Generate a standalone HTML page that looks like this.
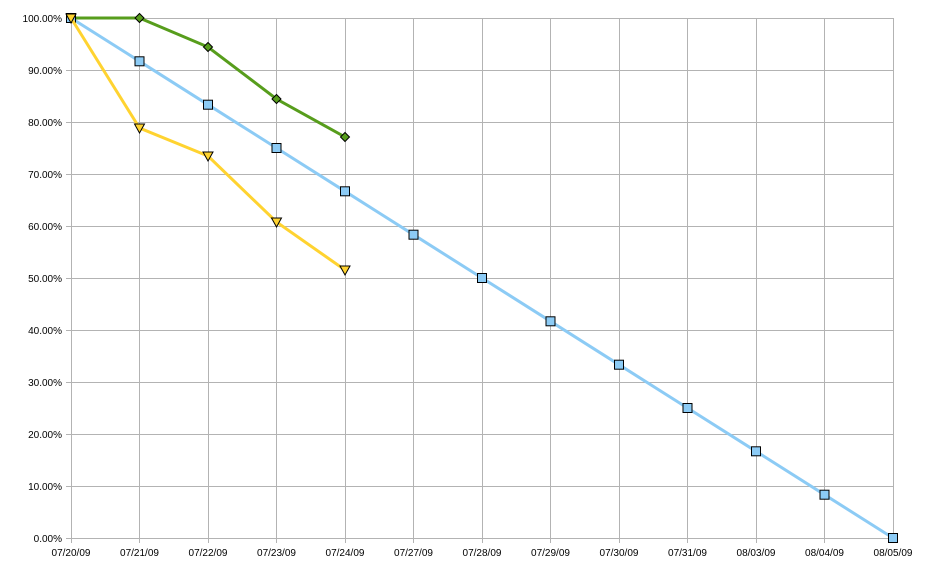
<!DOCTYPE html><html><head><style>body{margin:0;background:#fff}svg{display:block}text{font-family:"Liberation Sans",sans-serif;font-size:10px;fill:#000}</style></head><body>
<svg width="933" height="573" xmlns="http://www.w3.org/2000/svg">
<g stroke="#b3b3b3" stroke-width="1">
<line x1="71" y1="18.5" x2="893" y2="18.5"/><line x1="71" y1="70.5" x2="893" y2="70.5"/><line x1="71" y1="122.5" x2="893" y2="122.5"/><line x1="71" y1="174.5" x2="893" y2="174.5"/><line x1="71" y1="226.5" x2="893" y2="226.5"/><line x1="71" y1="278.5" x2="893" y2="278.5"/><line x1="71" y1="330.5" x2="893" y2="330.5"/><line x1="71" y1="382.5" x2="893" y2="382.5"/><line x1="71" y1="434.5" x2="893" y2="434.5"/><line x1="71" y1="486.5" x2="893" y2="486.5"/><line x1="66" y1="538.5" x2="893" y2="538.5"/>
<line x1="66" y1="18.5" x2="71" y2="18.5"/><line x1="66" y1="70.5" x2="71" y2="70.5"/><line x1="66" y1="122.5" x2="71" y2="122.5"/><line x1="66" y1="174.5" x2="71" y2="174.5"/><line x1="66" y1="226.5" x2="71" y2="226.5"/><line x1="66" y1="278.5" x2="71" y2="278.5"/><line x1="66" y1="330.5" x2="71" y2="330.5"/><line x1="66" y1="382.5" x2="71" y2="382.5"/><line x1="66" y1="434.5" x2="71" y2="434.5"/><line x1="66" y1="486.5" x2="71" y2="486.5"/>
<line x1="71.5" y1="18" x2="71.5" y2="543"/><line x1="139.5" y1="18" x2="139.5" y2="543"/><line x1="208.5" y1="18" x2="208.5" y2="543"/><line x1="276.5" y1="18" x2="276.5" y2="543"/><line x1="345.5" y1="18" x2="345.5" y2="543"/><line x1="413.5" y1="18" x2="413.5" y2="543"/><line x1="482.5" y1="18" x2="482.5" y2="543"/><line x1="550.5" y1="18" x2="550.5" y2="543"/><line x1="619.5" y1="18" x2="619.5" y2="543"/><line x1="687.5" y1="18" x2="687.5" y2="543"/><line x1="756.5" y1="18" x2="756.5" y2="543"/><line x1="824.5" y1="18" x2="824.5" y2="543"/><line x1="893.5" y1="18" x2="893.5" y2="543"/>
</g>
<g text-anchor="end">
<text x="62" y="22">100.00%</text><text x="62" y="74">90.00%</text><text x="62" y="126">80.00%</text><text x="62" y="178">70.00%</text><text x="62" y="230">60.00%</text><text x="62" y="282">50.00%</text><text x="62" y="334">40.00%</text><text x="62" y="386">30.00%</text><text x="62" y="438">20.00%</text><text x="62" y="490">10.00%</text><text x="62" y="542">0.00%</text>
</g>
<g text-anchor="middle">
<text x="71" y="556">07/20/09</text><text x="139.5" y="556">07/21/09</text><text x="208" y="556">07/22/09</text><text x="276.5" y="556">07/23/09</text><text x="345" y="556">07/24/09</text><text x="413.5" y="556">07/27/09</text><text x="482" y="556">07/28/09</text><text x="550.5" y="556">07/29/09</text><text x="619" y="556">07/30/09</text><text x="687.5" y="556">07/31/09</text><text x="756" y="556">08/03/09</text><text x="824.5" y="556">08/04/09</text><text x="893" y="556">08/05/09</text>
</g>
<polyline fill="none" stroke="#579d1c" stroke-width="3" points="71,18 139.5,18 208,47 276.5,99 345,137"/>
<g fill="#579d1c" stroke="#000" stroke-width="1">
<path d="M71,13.5 l4.5,4.5 -4.5,4.5 -4.5,-4.5z"/><path d="M139.5,13.5 l4.5,4.5 -4.5,4.5 -4.5,-4.5z"/><path d="M208,42.5 l4.5,4.5 -4.5,4.5 -4.5,-4.5z"/><path d="M276.5,94.5 l4.5,4.5 -4.5,4.5 -4.5,-4.5z"/><path d="M345,132.5 l4.5,4.5 -4.5,4.5 -4.5,-4.5z"/>
</g>
<polyline fill="none" stroke="#8ccbf5" stroke-width="3" points="71,18 139.5,61.3 208,104.7 276.5,148 345,191.3 413.5,234.7 482,278 550.5,321.3 619,364.7 687.5,408 756,451.3 824.5,494.7 893,538"/>
<g fill="#8ccbf5" stroke="#000" stroke-width="1">
<rect x="66.5" y="13.5" width="9" height="9"/><rect x="135" y="56.8" width="9" height="9"/><rect x="203.5" y="100.2" width="9" height="9"/><rect x="272" y="143.5" width="9" height="9"/><rect x="340.5" y="186.8" width="9" height="9"/><rect x="409" y="230.2" width="9" height="9"/><rect x="477.5" y="273.5" width="9" height="9"/><rect x="546" y="316.8" width="9" height="9"/><rect x="614.5" y="360.2" width="9" height="9"/><rect x="683" y="403.5" width="9" height="9"/><rect x="751.5" y="446.8" width="9" height="9"/><rect x="820" y="490.2" width="9" height="9"/><rect x="888.5" y="533.5" width="9" height="9"/>
</g>
<polyline fill="none" stroke="#ffd330" stroke-width="3" points="71,18 139.5,128 208,156 276.5,222 345,270"/>
<g fill="#ffd330" stroke="#000" stroke-width="1">
<path d="M66,14 h10 l-5,9 z"/><path d="M134.5,124 h10 l-5,9 z"/><path d="M203,152 h10 l-5,9 z"/><path d="M271.5,218 h10 l-5,9 z"/><path d="M340,266 h10 l-5,9 z"/>
</g>
</svg></body></html>
